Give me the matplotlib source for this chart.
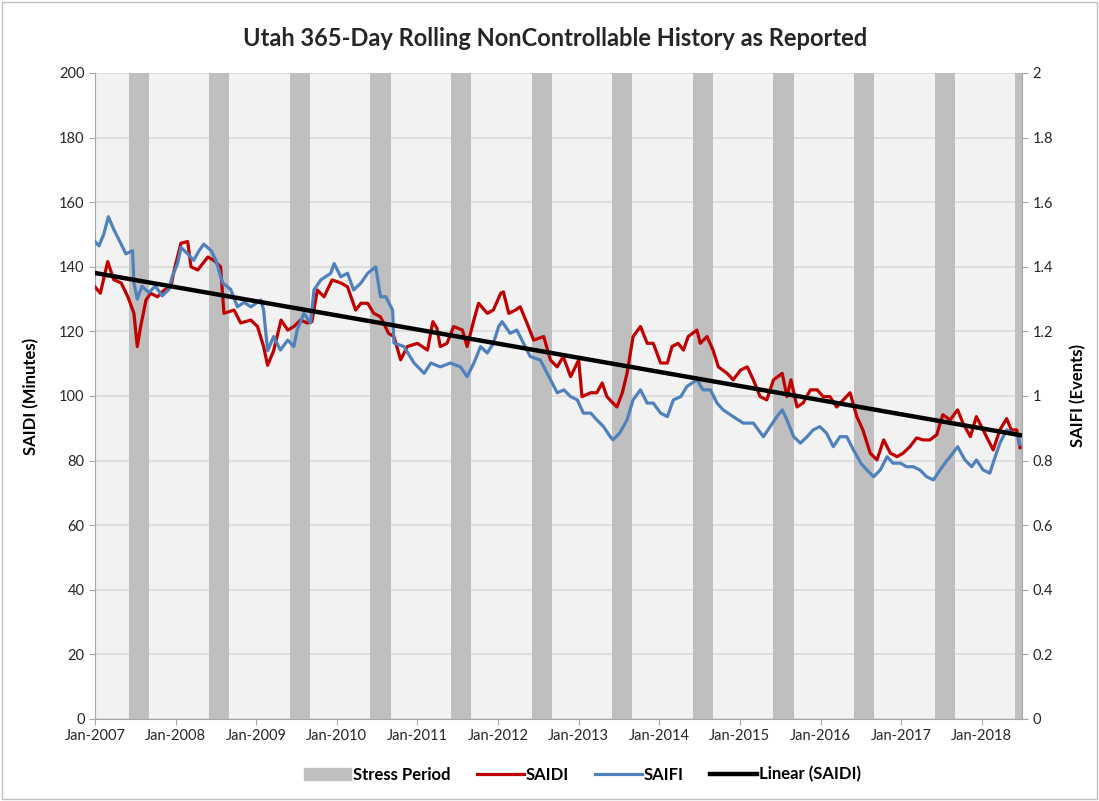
import numpy as np
import matplotlib
matplotlib.use("Agg")
import matplotlib.pyplot as plt
from matplotlib.patches import Patch
from matplotlib.lines import Line2D

plt.rcParams["font.family"] = ["Lato", "DejaVu Sans"]

# months since Jan-2007
saidi_m = [0, 0.8, 1.9, 2.8, 3.9, 4.9, 5.8, 6.3, 6.8, 7.6, 8.3, 9.3, 10.3, 11.3, 11.8,
           12.8, 13.8, 14.3, 15.3, 16.8, 17.7, 18.7, 19.2, 20.7, 21.7, 23.2, 24.2, 25.1,
           25.7, 26.6, 27.7, 28.7, 29.6, 30.6, 31.6, 32.3, 33.1, 34.1, 35.3, 36.6, 37.6,
           38.8, 39.6, 40.6, 41.5, 42.5, 43.7, 44.5, 45.5, 46.5, 48, 49.5, 50.3, 50.9,
           51.4, 52.4, 53.4, 54.7, 55.4, 56.4, 57.1, 58.4, 59.3, 60.4, 60.8, 61.6, 62.6,
           63.3, 64.3, 65.3, 66.8, 67.8, 68.8, 69.7, 70.8, 72, 72.5, 73.8, 74.7, 75.5,
           76.2, 77.1, 77.7, 78.5, 79.2, 80.1, 81.2, 82.2, 83.1, 84.2, 85.2, 85.9, 86.8,
           87.6, 88.3, 89.6, 90.1, 91.1, 92, 92.8, 94.1, 95, 96.1, 97.1, 98, 99, 100,
           101, 102.3, 103, 103.6, 104.5, 105.4, 106.5, 107.5, 108.4, 109.4, 110.4,
           111.4, 112.4, 113.4, 114.3, 115.4, 116.4, 117.4, 118.4, 119.4, 120.3, 121.3,
           122.3, 123.3, 124.3, 125.3, 126.2, 127.3, 128.4, 129.2, 130.3, 131.2, 132.2,
           133.2, 133.7, 134.7, 135.7, 136.4, 137.2, 137.7]
saidi = [133.8, 131.8, 141.6, 136, 135, 130.7, 125.6, 115.3, 121.5, 129.7, 131.8, 130.7,
         132.8, 133.8, 139, 147.3, 147.8, 140, 139, 143, 142, 140, 125.6, 126.6, 122.6,
         123.5, 121.5, 115.3, 109.5, 114, 123.5, 120.4, 121.5, 123.5, 122.6, 123, 132.8,
         130.7, 135.9, 135, 133.8, 126.6, 128.7, 128.7, 125.6, 124.5, 119.4, 118.4, 111.2,
         115.3, 116.3, 114.2, 123, 121, 115.3, 116.3, 121.5, 120.4, 115.3, 123.5, 128.7,
         125.6, 126.6, 131.8, 132.2, 125.6, 126.6, 127.6, 122.6, 117.3, 118.4, 111.1, 109,
         112.2, 106, 111.1, 99.8, 101, 101, 104, 99.8, 97.8, 96.6, 101, 107, 118.4, 121.5,
         116.3, 116.3, 110.2, 110.2, 115.3, 116.3, 114.2, 118.4, 120.4, 116.3, 118.4,
         114.2, 109, 107, 105, 108, 109, 105, 99.8, 98.8, 105, 107, 99.8, 105, 96.6, 97.8,
         101.9, 101.9, 99.8, 99.8, 96.6, 98.8, 101, 93.6, 89.5, 82.3, 80.2, 86.4, 82.3,
         81.2, 82.3, 84.3, 87, 86.4, 86.4, 88, 94.2, 92.6, 95.7, 91.6, 87.4, 93.6, 89.5,
         85.4, 83.3, 89.5, 93, 89.5, 89.5, 84]

saifi_m = [0, 0.6, 1.3, 2, 2.7, 3.9, 4.6, 5.6, 5.8, 6.3, 7, 8, 9, 10, 11, 11.5, 12.3, 12.8,
           13.8, 14.7, 15.5, 16.2, 17.3, 18, 19, 20.2, 21.2, 22.2, 23.2, 24.7, 25.1, 25.7,
           26.6, 27.6, 28.7, 29.6, 30.1, 31.1, 32.1, 32.6, 33.6, 35.1, 35.6, 36.6, 37.6,
           38.5, 39.6, 40.6, 41.8, 42.5, 43.3, 44.3, 44.5, 46, 47.5, 49, 50, 51.4, 52.9,
           54.4, 55.4, 56.4, 57.4, 58.4, 59.3, 60.1, 60.6, 61.8, 62.8, 63.8, 64.8, 66.3,
           67.8, 68.8, 69.8, 70.8, 71.8, 72.7, 73.8, 74.7, 75.7, 76.7, 77.1, 78.1, 79.2,
           80.1, 81.2, 82.2, 83.1, 84.2, 85.2, 86.1, 87.2, 88.1, 89.6, 90.5, 91.6, 92.6,
           93.5, 95, 96.5, 98, 99.5, 100.5, 101.5, 102.3, 103, 104, 105, 106, 106.9, 107.9,
           108.9, 109.9, 110.9, 111.9, 112.9, 114, 114.9, 115.9, 116.9, 117.9, 118.8,
           119.9, 120.8, 121.8, 122.8, 123.8, 124.8, 125.8, 126.8, 127.3, 128.4, 129.5,
           130.5, 131.2, 132.2, 133.2, 134, 134.7, 135.7, 136.6, 137.4, 137.7]
saifi = [1.478, 1.465, 1.50, 1.555, 1.52, 1.47, 1.44, 1.45, 1.35, 1.30, 1.34, 1.32, 1.34,
         1.31, 1.33, 1.37, 1.41, 1.46, 1.44, 1.42, 1.45, 1.47, 1.45, 1.42, 1.35, 1.33,
         1.276, 1.29, 1.276, 1.297, 1.266, 1.14, 1.184, 1.142, 1.173, 1.153, 1.204, 1.256,
         1.226, 1.328, 1.359, 1.38, 1.41, 1.369, 1.38, 1.328, 1.35, 1.38, 1.40, 1.307,
         1.307, 1.266, 1.164, 1.153, 1.102, 1.07, 1.102, 1.09, 1.102, 1.09, 1.06, 1.102,
         1.153, 1.133, 1.163, 1.215, 1.23, 1.194, 1.204, 1.163, 1.122, 1.111, 1.05, 1.01,
         1.019, 0.998, 0.988, 0.947, 0.947, 0.926, 0.905, 0.874, 0.864, 0.885, 0.926,
         0.988, 1.019, 0.978, 0.978, 0.947, 0.936, 0.988, 0.998, 1.029, 1.05, 1.019,
         1.019, 0.978, 0.957, 0.936, 0.916, 0.916, 0.874, 0.905, 0.936, 0.957, 0.926,
         0.874, 0.854, 0.874, 0.895, 0.905, 0.885, 0.843, 0.874, 0.874, 0.833, 0.792,
         0.771, 0.75, 0.771, 0.812, 0.792, 0.792, 0.781, 0.781, 0.771, 0.75, 0.74, 0.771,
         0.80, 0.812, 0.843, 0.802, 0.781, 0.802, 0.771, 0.761, 0.812, 0.854, 0.895,
         0.885, 0.874, 0.85]

years = list(range(2007, 2019))
tick_labels = ["Jan-%d" % y for y in years]
stress_start_month = 5   # June
stress_end_month = 8     # through August
x_end = 138

fig = plt.figure(figsize=(10.99, 8.01), dpi=100)
ax = fig.add_axes([0.0864, 0.1024, 0.8436, 0.8065])
ax.set_facecolor("#F2F2F2")

for i, y in enumerate(years):
    s = i * 12 + stress_start_month
    e = min(i * 12 + stress_end_month, x_end)
    if s < x_end:
        ax.axvspan(s, e, color="#BFBFBF", lw=0, zorder=1)

ax.plot(saidi_m, saidi, color="#C00000", lw=2.3, zorder=3)

ax2 = ax.twinx()
ax2.plot(saifi_m, saifi, color="#4F81BD", lw=2.3, zorder=3)
ax2.set_ylim(0, 2)
ax2.set_yticks(np.arange(0, 2.01, 0.2))
ax2.set_yticklabels(["0", "0.2", "0.4", "0.6", "0.8", "1", "1.2", "1.4", "1.6", "1.8", "2"])

# trendline of SAIDI drawn on top
coef = np.polyfit(saidi_m, saidi, 1)
xs = np.array([0, x_end])
ax3 = ax.twinx()
ax3.set_ylim(0, 200)
ax3.axis("off")
ax3.plot(xs, np.polyval(coef, xs), color="black", lw=3.2, zorder=4)

ax.set_xlim(0, x_end)
ax.set_ylim(0, 200)
ax.set_yticks(range(0, 201, 20))
ax.set_xticks([i * 12 for i in range(len(years))])
ax.set_xticklabels(tick_labels)
ax.yaxis.grid(True, color="#D9D9D9", lw=1.2, zorder=0)
ax.set_axisbelow(True)

for a in (ax, ax2):
    for sp in a.spines.values():
        sp.set_visible(False)
    a.tick_params(labelsize=10.5, colors="#262626", length=4, color="#A6A6A6")
ax.spines["bottom"].set_visible(True)
ax.spines["bottom"].set_color("#A6A6A6")
ax.spines["left"].set_visible(True)
ax.spines["left"].set_color("#A6A6A6")
ax2.spines["right"].set_visible(True)
ax2.spines["right"].set_color("#A6A6A6")

ax.set_ylabel("SAIDI (Minutes)", fontsize=12, fontweight="bold", labelpad=14)
ax2.set_ylabel("SAIFI (Events)", fontsize=12, fontweight="bold", labelpad=12)
fig.text(0.505, 0.952, "Utah 365-Day Rolling NonControllable History as Reported",
         ha="center", va="center", fontsize=17, fontweight="bold", color="#262626")

handles = [Patch(color="#BFBFBF"),
           Line2D([], [], color="#C00000", lw=2.3),
           Line2D([], [], color="#4F81BD", lw=2.3),
           Line2D([], [], color="black", lw=3.2)]
fig.legend(handles, ["Stress Period", "SAIDI", "SAIFI", "Linear (SAIDI)"],
           loc="center", bbox_to_anchor=(0.53, 0.033), ncol=4, frameon=False,
           fontsize=12, handlelength=2.8, handletextpad=0.1, columnspacing=1.6,
           prop={"weight": "bold", "size": 12})

border = plt.Rectangle((0.002, 0.002), 0.996, 0.996, transform=fig.transFigure,
                       fill=False, edgecolor="#BFBFBF", lw=1)
fig.patches.append(border)

fig.savefig("out.png", dpi=100)
